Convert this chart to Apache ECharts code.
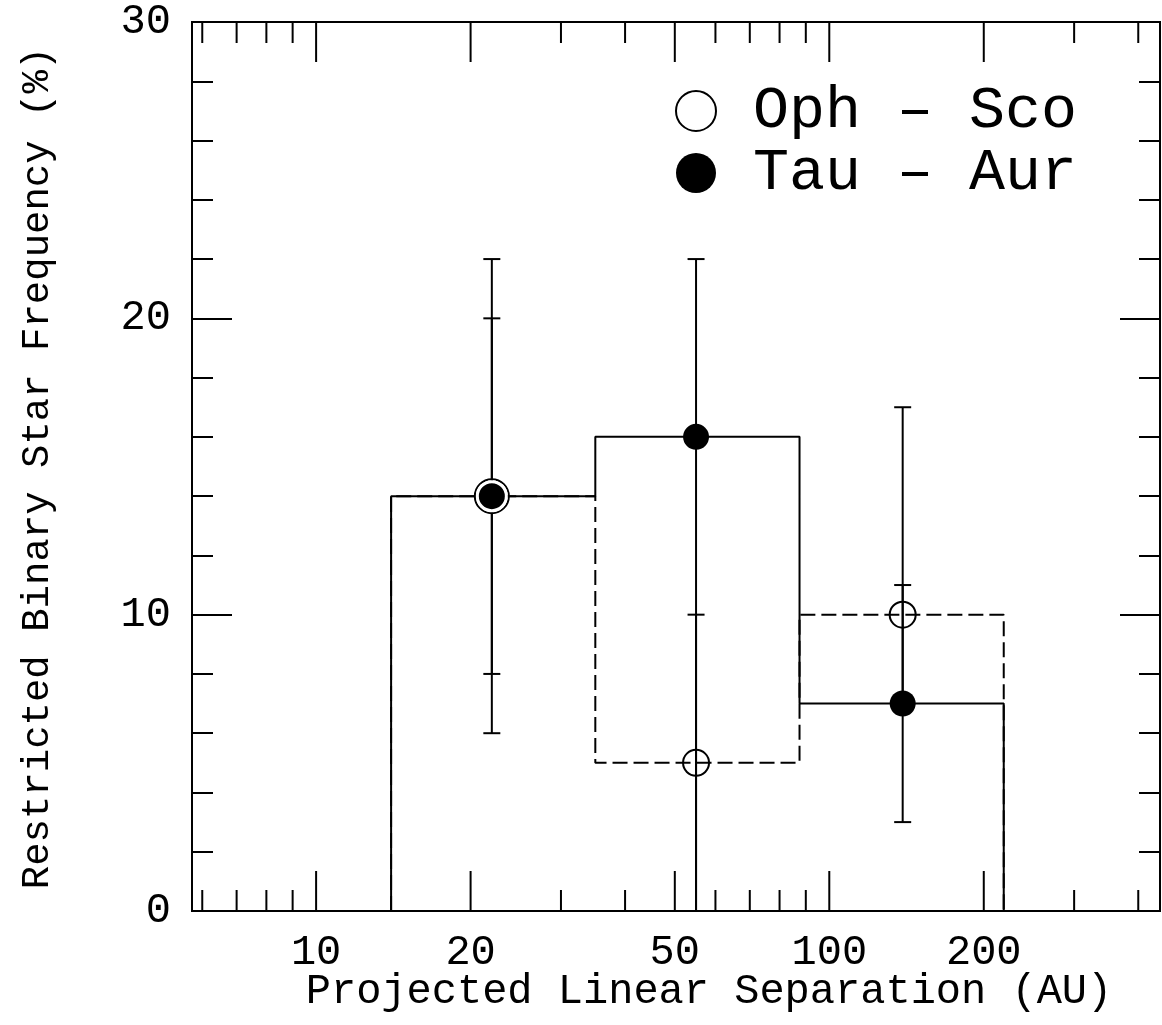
<!DOCTYPE html>
<html>
<head>
<meta charset="utf-8">
<script src="https://cdn.jsdelivr.net/npm/echarts@6/dist/echarts.min.js"></script>
<style>
  html, body { margin: 0; padding: 0; background: #fff; }
  #chart { width: 1162px; height: 1025px; }
</style>
</head>
<body>
<div id="chart"></div>
<script>
// ---- data ----
const binEdges = [14, 35, 87.5, 218.75];          // AU, histogram bin edges
const tauFreq = [14, 16, 7];                       // Tau - Aur (solid histogram), %
const ophFreq = [14, 5, 10];                       // Oph - Sco (dashed histogram), %
const pointSep = [22, 55, 139];                    // AU, plotted point positions
const tauLow = [6, 0, 3];
const tauHigh = [22, 22, 17];
const ophLow = [8, 0, 7];
const ophHigh = [20, 10, 11];
const xTickValues = [6, 7, 8, 9, 10, 20, 30, 40, 50, 60, 70, 80, 90, 100, 200, 300, 400];
const xMajorTicks = [10, 20, 50, 100, 200];
const xTickLabels = ['10', '20', '50', '100', '200'];
const yTickLabels = ['0', '10', '20', '30'];
const seriesNames = ['Oph \u2013 Sco', 'Tau \u2013 Aur'];

const FONT = '"Liberation Mono", "DejaVu Sans Mono", monospace';
const X_MIN = 5.73, X_MAX = 441, Y_MIN = 0, Y_MAX = 30;

function stepPath(vals) {
  const d = [[binEdges[0], 0]];
  vals.forEach((v, i) => { d.push([binEdges[i], v]); d.push([binEdges[i + 1], v]); });
  d.push([binEdges[binEdges.length - 1], 0]);
  return d;
}

function errRender(params, api) {
  const x = api.value(0);
  const lo = api.coord([x, api.value(1)]);
  const hi = api.coord([x, api.value(2)]);
  const cap = 8.5;
  const st = { stroke: '#000', lineWidth: 2 };
  return {
    type: 'group',
    children: [
      { type: 'line', shape: { x1: lo[0], y1: lo[1], x2: hi[0], y2: hi[1] }, style: st },
      { type: 'line', shape: { x1: lo[0] - cap, y1: lo[1], x2: lo[0] + cap, y2: lo[1] }, style: st },
      { type: 'line', shape: { x1: hi[0] - cap, y1: hi[1], x2: hi[0] + cap, y2: hi[1] }, style: st }
    ]
  };
}

function xTickRender(params, api) {
  const v = api.value(0);
  const b = api.coord([v, Y_MIN]);
  const t = api.coord([v, Y_MAX]);
  const mi = xMajorTicks.indexOf(v);
  const len = mi >= 0 ? 40 : 21;
  const st = { stroke: '#000', lineWidth: 2 };
  const children = [
    { type: 'line', shape: { x1: b[0], y1: b[1], x2: b[0], y2: b[1] - len }, style: st },
    { type: 'line', shape: { x1: t[0], y1: t[1], x2: t[0], y2: t[1] + len }, style: st }
  ];
  if (mi >= 0) {
    children.push({
      type: 'text',
      style: {
        text: xTickLabels[mi], x: b[0], y: b[1] + 42,
        align: 'center', verticalAlign: 'middle',
        fontSize: 42, fontFamily: FONT, fill: '#000'
      }
    });
  }
  return { type: 'group', children };
}

const tauPoints = pointSep.map((x, i) => {
  const item = { value: [x, tauFreq[i]] };
  if (ophFreq[i] === tauFreq[i]) {
    item.symbolSize = 29;
    item.itemStyle = { borderColor: '#fff', borderWidth: 3 };
  }
  return item;
});
const ophPoints = pointSep.map((x, i) => ({
  value: [x, ophFreq[i]],
  symbolSize: ophFreq[i] === tauFreq[i] ? 34 : 26
}));

const chart = echarts.init(document.getElementById('chart'), null, { renderer: 'canvas' });
chart.setOption({
  animation: false,
  backgroundColor: '#fff',
  grid: {
    left: 192, top: 22, right: 2, bottom: 114,
    show: true, borderColor: '#000', borderWidth: 2, backgroundColor: 'transparent',
    containLabel: false, outerBoundsMode: 'none'
  },
  xAxis: {
    type: 'log', logBase: 10, min: X_MIN, max: X_MAX,
    axisLine: { show: false }, axisTick: { show: false },
    axisLabel: { show: false }, splitLine: { show: false }, minorTick: { show: false }
  },
  yAxis: [
    {
      type: 'value', min: Y_MIN, max: Y_MAX, interval: 10, position: 'left',
      axisLine: { show: false },
      axisTick: { show: true, inside: true, length: 40, lineStyle: { color: '#000', width: 2 } },
      minorTick: { show: true, splitNumber: 5, length: 21, lineStyle: { color: '#000', width: 2 } },
      axisLabel: {
        show: true, margin: 21, fontSize: 42, fontFamily: FONT, color: '#000',
        formatter: (v) => yTickLabels[Math.round(v / 10)]
      },
      splitLine: { show: false }
    },
    {
      type: 'value', min: Y_MIN, max: Y_MAX, interval: 10, position: 'right',
      axisLine: { show: false },
      axisTick: { show: true, inside: true, length: 40, lineStyle: { color: '#000', width: 2 } },
      minorTick: { show: true, splitNumber: 5, length: 21, lineStyle: { color: '#000', width: 2 } },
      axisLabel: { show: false },
      splitLine: { show: false }
    }
  ],
  legend: {
    orient: 'vertical', left: 670, top: 75,
    itemWidth: 40, itemHeight: 40, itemGap: 0,
    selectedMode: false,
    textStyle: { fontSize: 60, fontFamily: FONT, color: '#000', lineHeight: 62, padding: [0, 0, 0, 32] },
    data: [
      { name: seriesNames[0], icon: 'circle', itemStyle: { color: 'rgba(0,0,0,0)', borderColor: '#000', borderWidth: 2 } },
      { name: seriesNames[1], icon: 'circle', itemStyle: { color: '#000', borderWidth: 0 } }
    ]
  },
  graphic: [
    {
      type: 'text', x: 709, y: 992, silent: true,
      style: { text: 'Projected Linear Separation (AU)', fontSize: 42, fontFamily: FONT, fill: '#000', align: 'center', verticalAlign: 'middle' }
    },
    {
      type: 'text', x: 38, y: 468, rotation: Math.PI / 2, silent: true,
      style: { text: 'Restricted Binary Star Frequency (%)', fontSize: 39, fontFamily: FONT, fill: '#000', align: 'center', verticalAlign: 'middle' }
    }
  ],
  series: [
    {
      name: 'x ticks', type: 'custom', renderItem: xTickRender, silent: true, z: 1,
      data: xTickValues.map(v => [v, 0])
    },
    {
      name: 'Oph hist', type: 'line', data: stepPath(ophFreq), showSymbol: false, silent: true, z: 2,
      lineStyle: { color: '#000', width: 2, type: [15, 6] }
    },
    {
      name: 'Tau hist', type: 'line', data: stepPath(tauFreq), showSymbol: false, silent: true, z: 3,
      lineStyle: { color: '#000', width: 2, type: 'solid' }
    },
    {
      name: 'Oph err', type: 'custom', renderItem: errRender, silent: true, z: 4,
      data: pointSep.map((x, i) => [x, ophLow[i], ophHigh[i]])
    },
    {
      name: 'Tau err', type: 'custom', renderItem: errRender, silent: true, z: 4,
      data: pointSep.map((x, i) => [x, tauLow[i], tauHigh[i]])
    },
    {
      name: seriesNames[0], type: 'scatter', symbol: 'circle', symbolSize: 26, z: 5,
      itemStyle: { color: 'rgba(0,0,0,0)', borderColor: '#000', borderWidth: 2, opacity: 1 },
      data: ophPoints
    },
    {
      name: seriesNames[1], type: 'scatter', symbol: 'circle', symbolSize: 26, z: 6,
      itemStyle: { color: '#000', opacity: 1 },
      data: tauPoints
    }
  ]
});
</script>
</body>
</html>
